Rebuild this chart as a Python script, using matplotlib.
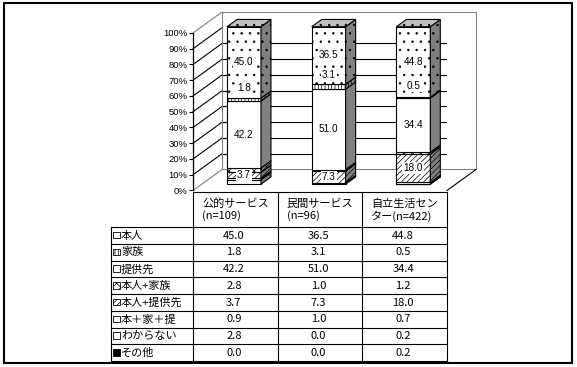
import numpy as np
import matplotlib
matplotlib.use('Agg')
import matplotlib.pyplot as plt
from matplotlib.patches import Polygon, Rectangle
from matplotlib.lines import Line2D
from matplotlib.transforms import Affine2D, IdentityTransform

# ---------------- data ----------------
categories = ['公的サービス\n(n=109)', '民間サービス\n(n=96)', '自立生活セン\nター(n=422)']
series_names = ['本人', '家族', '提供先', '本人+家族', '本人+提供先', '本＋家＋提', 'わからない', 'その他']
honnin        = [45.0, 36.5, 44.8]
kazoku        = [1.8, 3.1, 0.5]
teikyosaki    = [42.2, 51.0, 34.4]
honnin_kazoku = [2.8, 1.0, 1.2]
honnin_teikyo = [3.7, 7.3, 18.0]
hon_ka_tei    = [0.9, 1.0, 0.7]
wakaranai     = [2.8, 0.0, 0.2]
sonota        = [0.0, 0.0, 0.2]
series_values = [honnin, kazoku, teikyosaki, honnin_kazoku, honnin_teikyo,
                 hon_ka_tei, wakaranai, sonota]
labelled = ['本人', '家族', '提供先', '本人+提供先']
y_ticks = list(range(0, 101, 10))

# ---------------- styles ----------------
plt.rcParams['hatch.linewidth'] = 0.5
JP = ['Noto Sans CJK JP', 'DejaVu Sans']
NUM = ['Liberation Sans', 'DejaVu Sans']
GRAY = '#808080'
LIGHT = '#c0c0c0'
styles = {
    '本人':        dict(fc='white', hatch='..', side=GRAY),
    '家族':        dict(fc='white', hatch='|||||', side=GRAY),
    '提供先':      dict(fc='white', hatch='', side=GRAY),
    '本人+家族':   dict(fc='white', hatch='xxxx', side=GRAY),
    '本人+提供先': dict(fc='white', hatch='//////', side=GRAY),
    '本＋家＋提':  dict(fc='white', hatch='', side=GRAY),
    'わからない':  dict(fc='white', hatch='-', side=GRAY),
    'その他':      dict(fc='black', hatch='', side='black'),
}

W, H = 577, 367
fig = plt.figure(figsize=(W / 100, H / 100), dpi=100)
fig.patch.set_facecolor('white')

# overlay in pixel coordinates (y down)
ov = fig.add_axes([0, 0, 1, 1])
ov.set_xlim(0, W)
ov.set_ylim(H, 0)
ov.axis('off')

# front plane of 3D chart
fl, fr, ft, fb = 193, 447, 33, 190.5
ax = fig.add_axes([fl / W, 1 - fb / H, (fr - fl) / W, (fb - ft) / H])
ax.set_xlim(0, len(categories))
ax.set_ylim(0, 100)
ax.patch.set_visible(False)
for s in ['top', 'right', 'bottom']:
    ax.spines[s].set_visible(False)
ax.spines['left'].set_linewidth(0.9)
ax.spines['left'].set_zorder(6)
ax.set_xticks([])
ax.set_yticks(y_ticks)
ax.set_yticklabels([f'{v}%' for v in y_ticks], fontsize=6.8, family=NUM)
ax.tick_params(axis='y', length=3, width=0.8, pad=1)

DX, DY = 29, 21  # full depth offset in pixels
z1, z2 = 0.30, 0.645
bw = 0.40


def P(x, y, z):
    d = ax.transData.transform((x, y))
    return (d[0] + z * DX, d[1] + z * DY)


def poly(pts, zorder=2, **kw):
    ax.add_patch(Polygon(pts, closed=True, transform=IdentityTransform(),
                         clip_on=False, zorder=zorder, **kw))


def seg(p, q, zorder=2, **kw):
    ax.add_line(Line2D([p[0], q[0]], [p[1], q[1]], transform=IdentityTransform(),
                       clip_on=False, zorder=zorder, **kw))


n = len(categories)
# walls and floor
poly([P(0, 0, 1), P(n, 0, 1), P(n, 100, 1), P(0, 100, 1)], fc='white', ec='none', zorder=1)
poly([P(0, 0, 0), P(0, 0, 1), P(0, 100, 1), P(0, 100, 0)], fc='white', ec='none', zorder=1)
for v in y_ticks[1:-1]:
    seg(P(0, v, 0), P(0, v, 1), color='black', lw=0.8, zorder=1.5)
ax.hlines(y_ticks[1:-1], 0, n, colors='black', lw=0.8, zorder=1.5,
          transform=ax.transData + Affine2D().translate(DX, DY))
poly([P(0, 0, 1), P(n, 0, 1), P(n, 100, 1), P(0, 100, 1)], fc='none', ec=GRAY, lw=0.8, zorder=1.6)
seg(P(0, 100, 0), P(0, 100, 1), color=GRAY, lw=0.8, zorder=1.6)
seg(P(0, 0, 0), P(0, 0, 1), color=GRAY, lw=0.8, zorder=1.6)
seg(P(n, 0, 0), P(n, 0, 1), color='black', lw=0.8, zorder=1.6)

# bars (stack from the last series at the bottom to the first at the top)
stack_order = list(range(len(series_names)))[::-1]
for i in range(n):
    total = sum(sv[i] for sv in series_values)
    cum = 0.0
    xl, xr = i + 0.5 - bw / 2, i + 0.5 + bw / 2
    for k in stack_order:
        name = series_names[k]
        v = series_values[k][i] / total * 100
        y0, y1 = cum, cum + v
        cum = y1
        if v <= 0:
            continue
        st = styles[name]
        poly([P(xl, y0, z1), P(xr, y0, z1), P(xr, y1, z1), P(xl, y1, z1)],
             fc=st['fc'], ec='black', lw=0.8, hatch=st['hatch'], zorder=3)
        poly([P(xr, y0, z1), P(xr, y0, z2), P(xr, y1, z2), P(xr, y1, z1)],
             fc=st['side'], ec='black', lw=0.8, hatch=st['hatch'], zorder=3)
        if name in labelled:
            extra = 12 if name == '家族' else 0
            tr = ax.transData + Affine2D().translate(z1 * DX, z1 * DY + extra)
            ax.text(i + 0.5, (y0 + y1) / 2, f'{series_values[k][i]:.1f}', transform=tr,
                    ha='center', va='center', fontsize=7.2, family=NUM, zorder=5,
                    bbox=dict(boxstyle='square,pad=0.12', fc='white', ec='none'),
                    clip_on=False)
    poly([P(xl, 100, z1), P(xr, 100, z1), P(xr, 100, z2), P(xl, 100, z2)],
         fc=LIGHT, ec='black', lw=0.8, hatch='..', zorder=3)

# ---------------- data table ----------------
col_x = [ax.transData.transform((c, 0))[0] for c in range(n + 1)]
lab_left = 111
head_top, head_bot = 192, 227
row_h = 16.75
rows_y = [head_bot + r * row_h for r in range(len(series_names) + 1)]
lw = 0.8
ov.plot([col_x[0], col_x[-1]], [head_top, head_top], color='black', lw=lw)
for x in col_x:
    ov.plot([x, x], [head_top, rows_y[-1]], color='black', lw=lw)
ov.plot([lab_left, lab_left], [rows_y[0], rows_y[-1]], color='black', lw=lw)
for y in rows_y:
    ov.plot([lab_left, col_x[-1]], [y, y], color='black', lw=lw)

for c, cat in enumerate(categories):
    ov.text((col_x[c] + col_x[c + 1]) / 2, (head_top + head_bot) / 2 + 0.5, cat,
            ha='center', va='center', multialignment='left', fontsize=8,
            family=JP, linespacing=1.15)

for r, name in enumerate(series_names):
    yc = (rows_y[r] + rows_y[r + 1]) / 2
    st = styles[name]
    ov.add_patch(Rectangle((113, yc - 3.5), 6.5, 6.5, fc=st['fc'], ec='black',
                           lw=0.6, hatch=st['hatch'] if name != '本人' else ''))
    ov.text(121, yc + 0.3, name, ha='left', va='center', fontsize=8, family=JP)
    for c in range(n):
        ov.text((col_x[c] + col_x[c + 1]) / 2 - 1.5, yc + 0.3, f'{series_values[r][c]:.1f}',
                ha='center', va='center', fontsize=8, family=JP)

# outer border
ov.add_patch(Rectangle((4, 2.5), 568, 360.5, fc='none', ec='black', lw=1.5))

fig.savefig('out.png', dpi=100, facecolor='white')
